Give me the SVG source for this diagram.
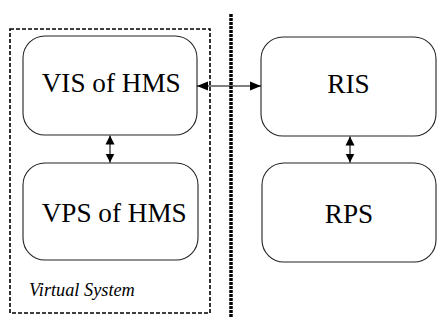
<svg xmlns="http://www.w3.org/2000/svg" width="437" height="320" viewBox="0 0 437 320">
<style>
.node rect{fill:#fff;stroke:#222;stroke-width:1.1}
.lbl{font-size:27.2px;fill:#000;text-anchor:middle}
.it{font-style:italic;font-size:18.3px;fill:#000}
.conn{stroke:#000;stroke-width:1.1;fill:none}
.h{marker-start:url(#ah);marker-end:url(#ah)}
.v{marker-start:url(#av);marker-end:url(#av)}
</style>
<defs>
<marker id="ah" markerUnits="userSpaceOnUse" markerWidth="11" markerHeight="10" refX="11" refY="5" orient="auto-start-reverse" viewBox="0 0 11 10"><path d="M0,0.5 L11,5 L0,9.5 Z" fill="#000"/></marker>
<marker id="av" markerUnits="userSpaceOnUse" markerWidth="9" markerHeight="10" refX="9" refY="5" orient="auto-start-reverse" viewBox="0 0 9 10"><path d="M0,0.5 L9,5 L0,9.5 Z" fill="#000"/></marker>
</defs>
<rect width="437" height="320" fill="#fff"/>
<g id="virtual-system">
<rect x="10" y="29" width="200" height="284" fill="none" stroke="#000" stroke-width="1.6" stroke-dasharray="4,2"/>
<text class="it" x="29" y="296" font-family="Liberation Serif, serif">Virtual System</text>
</g>
<g id="divider">
<line x1="231" y1="14" x2="231" y2="317" stroke="#000" stroke-width="3.5" stroke-dasharray="3,1"/>
</g>
<g id="vis" class="node">
<rect x="23" y="36" width="174" height="99" rx="22" ry="22"/>
<text class="lbl" x="111.2" y="92.3" font-family="Liberation Serif, serif">VIS of HMS</text>
</g>
<g id="vps" class="node">
<rect x="23" y="163" width="175" height="97" rx="22" ry="22"/>
<text class="lbl" x="114.2" y="222.3" font-family="Liberation Serif, serif">VPS of HMS</text>
</g>
<g id="ris" class="node">
<rect x="261" y="37" width="175" height="99" rx="22" ry="22"/>
<text class="lbl" x="348.5" y="92.5" font-family="Liberation Serif, serif">RIS</text>
</g>
<g id="rps" class="node">
<rect x="262" y="163" width="174" height="99" rx="22" ry="22"/>
<text class="lbl" x="349" y="222.5" font-family="Liberation Serif, serif">RPS</text>
</g>
<g id="connectors">
<line class="conn h" x1="197" y1="86" x2="261" y2="86"/>
<line class="conn v" x1="110" y1="135.5" x2="110" y2="162.5"/>
<line class="conn v" x1="350" y1="136.5" x2="350" y2="162.5"/>
</g>
</svg>
